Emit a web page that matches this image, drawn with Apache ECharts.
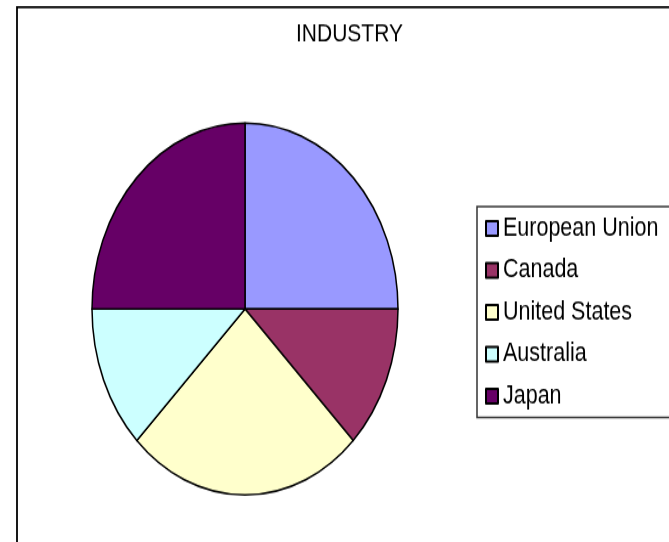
<!DOCTYPE html>
<html>
<head>
<meta charset="utf-8">
<script src="https://cdn.jsdelivr.net/npm/echarts@6/dist/echarts.min.js"></script>
<style>
  html, body { margin: 0; padding: 0; background: #fff; }
  body { width: 669px; height: 542px; overflow: hidden; }
  /* the source picture is stretched vertically, so the chart is drawn flat and scaled */
  #chart { width: 669px; height: 446px; transform: scaleY(1.2152); transform-origin: 0 0; }
</style>
</head>
<body>
<div id="chart"></div>
<script>
const countries = ['European Union', 'Canada', 'United States', 'Australia', 'Japan'];
const shares = [25, 12.5, 25, 12.5, 25];
const colors = ['#9999FF', '#993366', '#FFFFCC', '#CCFFFF', '#660066'];

const chart = echarts.init(document.getElementById('chart'), null, { renderer: 'canvas' });
const font = 'Liberation Sans, Arial, sans-serif';

chart.setOption({
  animation: false,
  backgroundColor: '#fff',
  title: {
    text: 'INDUSTRY',
    left: 296,
    top: 18,
    padding: 0,
    textStyle: { fontFamily: font, fontSize: 21, fontWeight: 'normal', color: '#000' },
  },
  legend: {
    orient: 'vertical',
    left: 477,
    top: 170,
    padding: [7, 12, 6.5, 8],
    itemWidth: 12,
    itemHeight: 12,
    itemGap: 12.5,
    icon: 'rect',
    borderColor: '#333',
    borderWidth: 1.5,
    textStyle: { fontFamily: font, fontSize: 21.5, color: '#000' },
    data: countries,
  },
  graphic: [
    {
      type: 'rect',
      shape: { x: 17, y: 5.8, width: 720, height: 520 },
      style: { fill: 'none', stroke: '#000', lineWidth: 1.8 },
      silent: true,
    },
  ],
  series: [
    {
      type: 'pie',
      center: [245, 254.3],
      radius: 153,
      startAngle: 90,
      clockwise: true,
      label: { show: false },
      labelLine: { show: false },
      emphasis: { disabled: true },
      itemStyle: { borderColor: '#000', borderWidth: 1.5 },
      data: countries.map((name, i) => ({
        name,
        value: shares[i],
        itemStyle: { color: colors[i] },
      })),
    },
  ],
});
</script>
</body>
</html>
